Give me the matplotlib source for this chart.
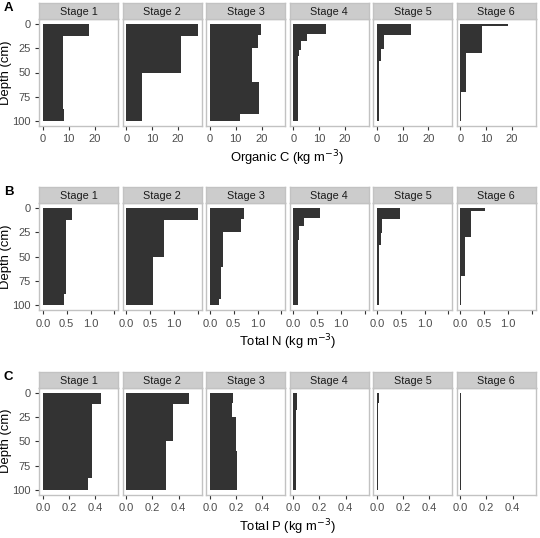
import matplotlib
matplotlib.use('Agg')
import matplotlib.pyplot as plt

plt.rcParams['font.family'] = ['Liberation Sans', 'DejaVu Sans']

stages = ['Stage 1', 'Stage 2', 'Stage 3', 'Stage 4', 'Stage 5', 'Stage 6']

# depth boundaries (cm) of the soil layers for each stage
depths = [
    [0, 12, 88, 100],
    [0, 12, 50, 100],
    [0, 11, 25, 60, 93, 100],
    [0, 10, 18, 27, 33, 100],
    [0, 11, 26, 38, 100],
    [0, 2.5, 30, 70, 100],
]

# values per layer (kg m-3)
organic_c = [
    [17.8, 7.6, 8.2],
    [27.8, 21.3, 6.0],
    [19.7, 18.8, 16.4, 19.0, 11.5],
    [12.8, 5.3, 2.9, 2.2, 1.9],
    [13.4, 2.6, 1.7, 0.9],
    [18.3, 8.6, 2.4, 0.4],
]
total_n = [
    [0.61, 0.49, 0.44],
    [1.51, 0.79, 0.55],
    [0.72, 0.65, 0.28, 0.24, 0.19],
    [0.55, 0.23, 0.12, 0.11, 0.10],
    [0.49, 0.10, 0.08, 0.04],
    [0.51, 0.22, 0.10, 0.02],
]
total_p = [
    [0.448, 0.377, 0.344],
    [0.478, 0.354, 0.304],
    [0.175, 0.170, 0.200, 0.210, 0.210],
    [0.031, 0.026, 0.024, 0.024, 0.023],
    [0.020, 0.012, 0.012, 0.010],
    [0.006, 0.005, 0.004, 0.004],
]

depth_ticks = [0, 25, 50, 75, 100]

rows = [
    ('A', organic_c, 'Organic C (kg m$^{-3}$)', (-1.39, 29.2), [0, 10, 20], ['0', '10', '20']),
    ('B', total_n, 'Total N (kg m$^{-3}$)', (-0.075, 1.58), [0, 0.5, 1.0, 1.5], ['0.0', '0.5', '1.0', '']),
    ('C', total_p, 'Total P (kg m$^{-3}$)', (-0.0275, 0.5775), [0, 0.2, 0.4], ['0.0', '0.2', '0.4']),
]

W, H = 540, 538
fig = plt.figure(figsize=(W / 100, H / 100), dpi=100)


def px_axes(x0, y0, x1, y1):
    # pixel box (top-left origin) -> figure axes
    return fig.add_axes([x0 / W, 1 - y1 / H, (x1 - x0) / W, (y1 - y0) / H])


panel_w = 79
gap = 4.48
left0 = 39.3
row_tops = [19, 203.3, 387.7]
panel_h = 107
strip_h = 16
border = '#c2c2c2'
fill = '#333333'
tick_col = '#4d4d4d'

for r, (letter, data, xlabel, xlim, xt, xtl) in enumerate(rows):
    top = row_tops[r]
    bottom = top + panel_h
    for i, st in enumerate(stages):
        x0 = left0 + i * (panel_w + gap)
        ax = px_axes(x0, top, x0 + panel_w, bottom)
        d = depths[i]
        tops = d[:-1]
        thick = [d[k + 1] - d[k] for k in range(len(d) - 1)]
        ax.barh(tops, data[i], height=thick, left=0, align='edge',
                color=fill, edgecolor='none')
        ax.set_xlim(*xlim)
        ax.set_ylim(105, -5)
        ax.set_xticks(xt)
        ax.set_xticklabels(xtl)
        ax.set_yticks(depth_ticks)
        if i == 0:
            ax.set_yticklabels([str(t) for t in depth_ticks])
        else:
            ax.set_yticklabels([])
        ax.tick_params(labelsize=8, labelcolor=tick_col, color='#333333',
                       length=3, width=0.8, pad=3)
        if i != 0:
            ax.tick_params(axis='y', length=0)
        for sp in ax.spines.values():
            sp.set_color(border)
            sp.set_linewidth(1.0)
        # strip
        sax = px_axes(x0, top - strip_h, x0 + panel_w, top)
        sax.set_facecolor('#cccccc')
        sax.set_xticks([])
        sax.set_yticks([])
        for sp in sax.spines.values():
            sp.set_color(border)
            sp.set_linewidth(1.0)
        sax.text(0.5, 0.45, st, ha='center', va='center', fontsize=7.8,
                 color='#1a1a1a', transform=sax.transAxes)

    # x-axis title
    fig.text((left0 + (6 * panel_w + 5 * gap) / 2) / W, 1 - (bottom + 32) / H, xlabel,
             ha='center', va='center', fontsize=9.4)
    # y-axis title
    fig.text(6 / W, 1 - (top + panel_h / 2) / H, 'Depth (cm)', rotation=90,
             ha='center', va='center', fontsize=9.4)
    # panel letter
    fig.text(4 / W, 1 - (top - 11) / H, letter, ha='left', va='center',
             fontsize=9.5, fontweight='bold')

fig.savefig('out.png', dpi=100)
